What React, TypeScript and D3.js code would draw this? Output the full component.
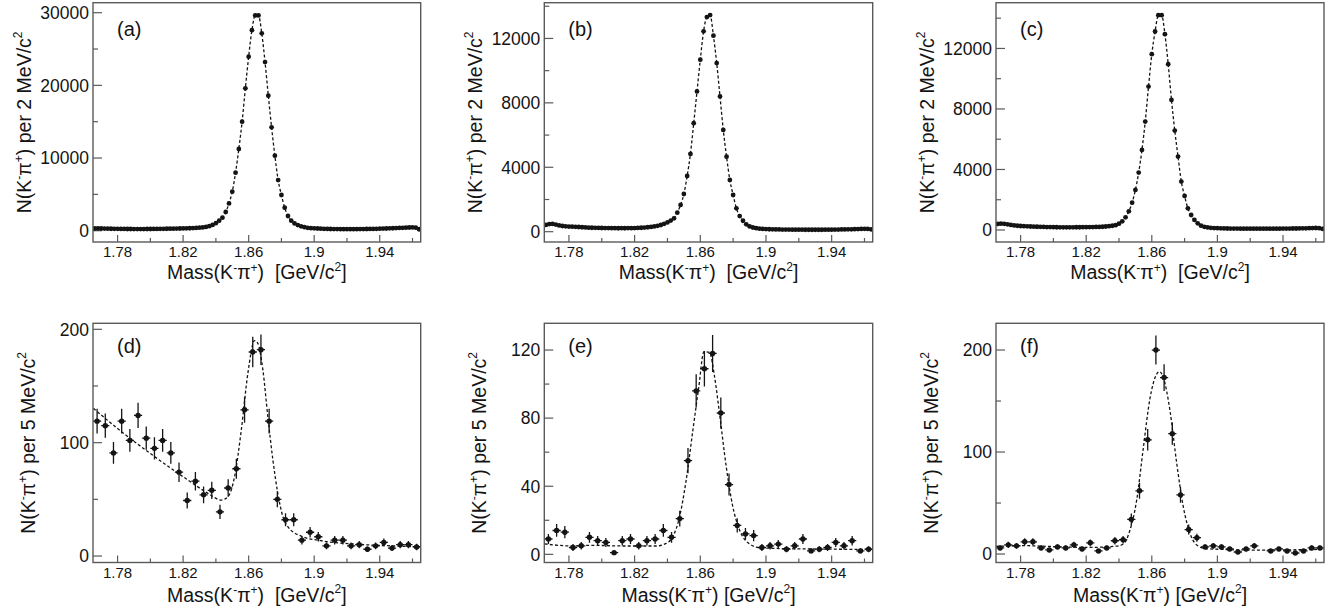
import React from "react";
import * as d3 from "d3";

const FONT = "'Liberation Sans', Arial, Helvetica, sans-serif";
const INK = "#141414";
const FRAME = "#5a5a5a";

// ---- axes / categories ----
const X_DOMAIN: [number, number] = [1.765, 1.965];
const X_MAJOR = [1.78, 1.82, 1.86, 1.9, 1.94];
const X_MINOR = [1.8, 1.84, 1.88, 1.92, 1.96];
const X_LABELS = ["1.78", "1.82", "1.86", "1.9", "1.94"];

const CENTERS_2MEV = d3.range(100).map((i) => 1.766 + 0.002 * i);
const CENTERS_5MEV = d3.range(40).map((i) => 1.7675 + 0.005 * i);

// ---- data (events per bin) ----
const A_VALUES = [
  300, 310, 300, 290, 280, 270, 262, 252, 246, 240,
  236, 232, 228, 226, 224, 228, 232, 236, 240, 246,
  252, 258, 266, 276, 282, 290, 300, 310, 325, 340,
  360, 385, 410, 450, 520, 620, 790, 1030, 1380, 1790,
  2570, 3760, 5370, 7980, 11240, 15000, 19590, 23950, 27600, 29630,
  29630, 27160, 23210, 18580, 14220, 10320, 6970, 4910, 3170, 2020,
  1380, 1000, 780, 600, 480, 400, 350, 320, 300, 280,
  262, 248, 236, 226, 220, 215, 212, 210, 210, 214,
  216, 220, 226, 232, 240, 250, 262, 276, 290, 306,
  322, 340, 360, 380, 400, 420, 440, 452, 420, 200,
];
const B_VALUES = [
  420, 470, 480, 440, 390, 355, 335, 320, 310, 300,
  290, 275, 262, 252, 244, 238, 232, 228, 226, 222,
  220, 216, 214, 218, 214, 222, 218, 226, 236, 244,
  258, 276, 298, 328, 366, 416, 486, 576, 690, 830,
  1180, 1660, 2340, 3460, 4830, 6740, 8710, 10680, 12440, 13330,
  13450, 12170, 10470, 8400, 6320, 4660, 3210, 2280, 1450, 970,
  680, 460, 330, 260, 220, 190, 172, 160, 152, 146,
  142, 138, 134, 132, 130, 128, 126, 124, 124, 122,
  122, 120, 120, 122, 122, 124, 126, 128, 130, 134,
  138, 142, 146, 150, 156, 164, 172, 180, 170, 150,
];
const C_VALUES = [
  400, 420, 410, 372, 334, 302, 280, 262, 250, 240,
  230, 222, 214, 206, 200, 194, 190, 186, 182, 178,
  176, 174, 176, 178, 180, 182, 184, 186, 190, 195,
  200, 205, 215, 230, 250, 280, 320, 420, 573, 838,
  1235, 1808, 2646, 3793, 5292, 7166, 9480, 11620, 13120, 14200,
  14200, 12943, 10959, 8600, 6571, 4851, 3197, 2249, 1433, 992,
  662, 441, 287, 210, 170, 145, 128, 118, 110, 105,
  100, 96, 94, 92, 90, 90, 88, 88, 88, 86,
  86, 86, 88, 88, 88, 90, 90, 92, 94, 96,
  98, 100, 104, 108, 112, 118, 124, 130, 120, 80,
];
const D_VALUES = [
  119, 115, 91, 119, 102, 124, 104, 95, 102, 91,
  74, 49, 66, 54, 58, 39, 60, 77, 129, 180,
  182, 119, 50, 32, 32, 14, 21, 17, 9, 14,
  14, 9, 10, 6, 9, 12, 7, 10, 10, 8,
];
const E_VALUES = [
  9, 14, 13, 4, 5, 10, 8, 7, 1, 8,
  9, 5, 8, 9, 14, 10, 21, 55, 96, 109,
  118, 83, 41, 17, 12, 11, 4, 5, 6, 3,
  5, 9, 2, 3, 4, 7, 5, 8, 2, 3,
];
const F_VALUES = [
  6, 9, 8, 12, 12, 6, 4, 7, 6, 9,
  5, 11, 3, 6, 13, 14, 34, 62, 112, 200,
  173, 118, 58, 24, 16, 7, 8, 7, 5, 2,
  5, 8, 0, 3, 5, 3, 1, 3, 6, 6,
];

// ---- fitted curves ----
const FIT_D_X = [1.7652, 1.7824, 1.8027, 1.823, 1.8352, 1.8433, 1.8474, 1.8514, 1.8555, 1.8595, 1.8636, 1.8656, 1.8687, 1.8717, 1.8748, 1.8778, 1.8809, 1.8839, 1.892, 1.9042, 1.9245, 1.9448, 1.9647];
const FIT_D_Y = [130.3, 109.7, 87.6, 67, 55.3, 49.4, 52.4, 70, 111, 161, 190, 187.6, 164, 123, 84.7, 55.3, 34.7, 25.9, 17.6, 13.5, 10.6, 9.1, 8.2];
const FIT_E_X = [1.7652, 1.7824, 1.7926, 1.8129, 1.8332, 1.8393, 1.8433, 1.8474, 1.8514, 1.8555, 1.8591, 1.8622, 1.8656, 1.8687, 1.8717, 1.8758, 1.8798, 1.8839, 1.89, 1.8961, 1.9143, 1.9647];
const FIT_E_Y = [6.1, 4.9, 5.3, 4.9, 4.9, 6.5, 10.4, 22.1, 43.6, 73, 98.4, 119, 118.6, 104.3, 82.8, 51.5, 28, 14.3, 6.1, 3.9, 3.3, 2.9];
const FIT_F_X = [1.765, 1.7816, 1.802, 1.8223, 1.8386, 1.8426, 1.8467, 1.8508, 1.8548, 1.8589, 1.863, 1.8646, 1.867, 1.8711, 1.8752, 1.8792, 1.8833, 1.8874, 1.8935, 1.924, 1.965];
const FIT_F_Y = [7.5, 8.2, 7.2, 6.5, 7.8, 9.8, 23.5, 53, 103.6, 152.6, 176.5, 178.8, 173.2, 140.5, 88.9, 46.4, 20.3, 8.8, 5.2, 3.9, 4.6];

// ---- panel set-up ----
const PANEL_LABELS = ["(a)", "(b)", "(c)", "(d)", "(e)", "(f)"];
const BIN_WIDTHS = ["2", "2", "2", "5", "5", "5"];
const Y_DOMAINS: [number, number][] = [
  [-1555, 31376], [-640, 14220], [-794, 15024],
  [-5.7, 205.3], [-4.8, 135.7], [-8.3, 226.2],
];
const Y_MAJOR = [
  [0, 10000, 20000, 30000], [0, 4000, 8000, 12000], [0, 4000, 8000, 12000],
  [0, 100, 200], [0, 40, 80, 120], [0, 100, 200],
];
const Y_MINOR = [
  [5000, 15000, 25000], [2000, 6000, 10000, 14000], [2000, 6000, 10000, 14000],
  [50, 150], [20, 60, 100], [50, 150],
];

const COLS = [
  { left: 93, right: 420.7 },
  { left: 544.3, right: 872.7 },
  { left: 996, right: 1324 },
];
const ROWS = [
  { top: 2.7, bottom: 242, titleY: 279, labelY: 35.5, yTitleOff: 62.5 },
  { top: 323.3, bottom: 562.5, titleY: 601.5, labelY: 353, yTitleOff: 58.5 },
];

function XTitle({ x, y, gap }: { x: number; y: number; gap: string }) {
  return (
    <text x={x} y={y} textAnchor="middle" fontFamily={FONT} fontSize={19.5} fill={INK}>
      Mass(K<tspan dy={-7.5} fontSize={12}>-</tspan>
      <tspan dy={7.5}>π</tspan>
      <tspan dy={-7.5} fontSize={12}>+</tspan>
      <tspan dy={7.5}>{")" + gap + "[GeV/c"}</tspan>
      <tspan dy={-8.5} fontSize={12}>2</tspan>
      <tspan dy={8.5}>]</tspan>
    </text>
  );
}

function YTitle({ x, y, bin }: { x: number; y: number; bin: string }) {
  return (
    <text transform={`translate(${x},${y}) rotate(-90)`} textAnchor="middle" fontFamily={FONT} fontSize={19.5} fill={INK}>
      N(K<tspan dy={-7.5} fontSize={12}>-</tspan>
      <tspan dy={7.5}>π</tspan>
      <tspan dy={-7.5} fontSize={12}>+</tspan>
      <tspan dy={7.5}>{") per " + bin + " MeV/c"}</tspan>
      <tspan dy={-8.5} fontSize={12}>2</tspan>
    </text>
  );
}

type PanelProps = {
  idx: number;
  centers: number[];
  values: number[];
  halfBin: number;
  fitX: number[];
  fitY: number[];
  big: boolean;
};

function Panel({ idx, centers, values, halfBin, fitX, fitY, big }: PanelProps) {
  const col = COLS[idx % 3];
  const row = ROWS[Math.floor(idx / 3)];
  const x = d3.scaleLinear().domain(X_DOMAIN).range([col.left, col.right]);
  const y = d3.scaleLinear().domain(Y_DOMAINS[idx]).range([row.bottom, row.top]);
  const clipId = `clip-${idx}`;
  const line = d3
    .line<number>()
    .x((_, i) => x(fitX[i]))
    .y((v) => y(v))
    .curve(d3.curveMonotoneX);
  const gap = idx >= 4 ? "\u00A0" : "\u00A0\u00A0";
  const cx = (col.left + col.right) / 2;
  const cy = (row.top + row.bottom) / 2;
  const r = big ? 2.4 : 2.7;

  return (
    <g>
      <defs>
        <clipPath id={clipId}>
          <rect x={col.left} y={row.top} width={col.right - col.left} height={row.bottom - row.top} />
        </clipPath>
      </defs>
      {X_MAJOR.map((t) => (
        <line key={"xM" + t} x1={x(t)} x2={x(t)} y1={row.bottom} y2={row.bottom - 7} stroke={FRAME} strokeWidth={1.2} />
      ))}
      {X_MINOR.map((t) => (
        <line key={"xm" + t} x1={x(t)} x2={x(t)} y1={row.bottom} y2={row.bottom - 4} stroke={FRAME} strokeWidth={1.2} />
      ))}
      {Y_MAJOR[idx].map((t) => (
        <line key={"yM" + t} x1={col.left} x2={col.left + 9} y1={y(t)} y2={y(t)} stroke={FRAME} strokeWidth={1.2} />
      ))}
      {Y_MINOR[idx].map((t) => (
        <line key={"ym" + t} x1={col.left} x2={col.left + 5} y1={y(t)} y2={y(t)} stroke={FRAME} strokeWidth={1.2} />
      ))}
      {X_MAJOR.map((t, i) => (
        <text key={"xl" + t} x={x(t)} y={row.bottom + 15} textAnchor="middle" fontFamily={FONT} fontSize={15} fill={INK}>
          {X_LABELS[i]}
        </text>
      ))}
      {Y_MAJOR[idx].map((t) => (
        <text key={"yl" + t} x={col.left - 4} y={y(t)} dy="0.36em" textAnchor="end" fontFamily={FONT} fontSize={17.5} fill={INK}>
          {String(t)}
        </text>
      ))}
      <g clipPath={`url(#${clipId})`}>
        <path d={line(fitY) || ""} fill="none" stroke={INK} strokeWidth={1.3} strokeDasharray="3 2.2" />
        {centers.map((c, i) => {
          const v = values[i];
          if (v <= 0) return null;
          const e = Math.sqrt(v);
          return (
            <g key={i}>
              <line x1={x(c)} x2={x(c)} y1={y(v - e)} y2={y(v + e)} stroke={INK} strokeWidth={1.3} />
              {!big && (
                <line x1={x(c - halfBin)} x2={x(c + halfBin)} y1={y(v)} y2={y(v)} stroke={INK} strokeWidth={1.3} />
              )}
              <circle cx={x(c)} cy={y(v)} r={r} fill={INK} />
            </g>
          );
        })}
      </g>
      <rect x={col.left} y={row.top} width={col.right - col.left} height={row.bottom - row.top} fill="none" stroke={FRAME} strokeWidth={1.4} />
      <text x={col.left + 24} y={row.labelY} fontFamily={FONT} fontSize={20} fill={INK}>
        {PANEL_LABELS[idx]}
      </text>
      <XTitle x={cx} y={row.titleY} gap={gap} />
      <YTitle x={col.left - row.yTitleOff} y={cy} bin={BIN_WIDTHS[idx]} />
    </g>
  );
}

export default function App() {
  return (
    <svg
      width={1336}
      height={614}
      viewBox="0 0 1336 614"
      style={{ position: "absolute", left: 0, top: 0, background: "#fff" }}
    >
      <rect x={0} y={0} width={1336} height={614} fill="#fff" />
      <Panel idx={0} centers={CENTERS_2MEV} values={A_VALUES} halfBin={0.001} fitX={CENTERS_2MEV} fitY={A_VALUES} big />
      <Panel idx={1} centers={CENTERS_2MEV} values={B_VALUES} halfBin={0.001} fitX={CENTERS_2MEV} fitY={B_VALUES} big />
      <Panel idx={2} centers={CENTERS_2MEV} values={C_VALUES} halfBin={0.001} fitX={CENTERS_2MEV} fitY={C_VALUES} big />
      <Panel idx={3} centers={CENTERS_5MEV} values={D_VALUES} halfBin={0.0025} fitX={FIT_D_X} fitY={FIT_D_Y} big={false} />
      <Panel idx={4} centers={CENTERS_5MEV} values={E_VALUES} halfBin={0.0025} fitX={FIT_E_X} fitY={FIT_E_Y} big={false} />
      <Panel idx={5} centers={CENTERS_5MEV} values={F_VALUES} halfBin={0.0025} fitX={FIT_F_X} fitY={FIT_F_Y} big={false} />
    </svg>
  );
}
